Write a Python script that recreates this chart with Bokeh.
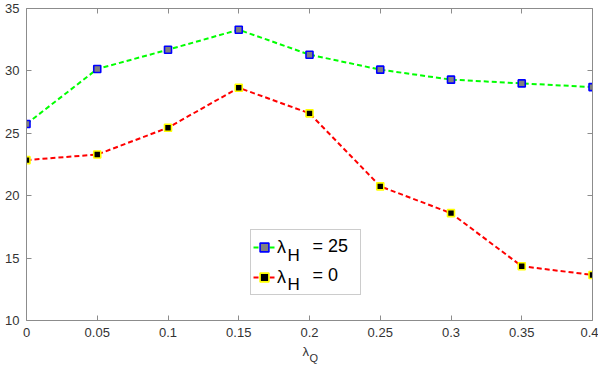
from bokeh.plotting import figure
from bokeh.models import (Range1d, FixedTicker, LinearAxis, Legend, LegendItem, Label)
from bokeh.embed import file_html
from bokeh.resources import INLINE

# data
lambda_q = [0, 0.05, 0.1, 0.15, 0.2, 0.25, 0.3, 0.35, 0.4]
x_tick_labels = ["0", "0.05", "0.1", "0.15", "0.2", "0.25", "0.3", "0.35", "0.4"]
y_ticks = [10, 15, 20, 25, 30, 35]
series_h25 = [25.75, 30.15, 31.7, 33.3, 31.3, 30.1, 29.3, 29.0, 28.7]
series_h0 = [22.85, 23.3, 25.45, 28.65, 26.6, 20.75, 18.6, 14.35, 13.65]

FONT = "Liberation Sans"
AX = "#8c8c8c"
LBL = "#333333"

p = figure(width=598, height=372, output_backend="svg", toolbar_location=None,
           x_range=Range1d(0, 0.4), y_range=Range1d(10, 35),
           min_border_left=26, min_border_right=6, min_border_top=8, min_border_bottom=52,
           x_axis_location=None, y_axis_location=None)
p.grid.visible = False
p.outline_line_color = None
p.background_fill_color = "white"
p.border_fill_color = "white"

def style_axis(ax, labels=True):
    ax.axis_line_color = AX
    ax.axis_line_width = 1
    ax.major_tick_line_color = AX
    ax.major_tick_in = 5
    ax.major_tick_out = 0
    ax.minor_tick_line_color = None
    ax.major_label_text_font = FONT
    if labels:
        ax.major_label_text_color = LBL
        ax.major_label_text_font_size = "13px"
        ax.major_label_standoff = 7
    else:
        ax.major_label_text_color = None
        ax.major_label_text_font_size = "1px"
        ax.major_label_standoff = 0

xt = FixedTicker(ticks=lambda_q)
yt = FixedTicker(ticks=y_ticks)
overrides = {v: s for v, s in zip(lambda_q, x_tick_labels)}

bottom = LinearAxis(ticker=xt, major_label_overrides=overrides)
style_axis(bottom)
top = LinearAxis(ticker=xt)
style_axis(top, labels=False)
left = LinearAxis(ticker=yt)
style_axis(left)
right = LinearAxis(ticker=yt)
style_axis(right, labels=False)
p.add_layout(bottom, "below")
p.add_layout(top, "above")
p.add_layout(left, "left")
p.add_layout(right, "right")

l1 = p.line(lambda_q, series_h25, line_color="#00ff00", line_width=2, line_dash="5 3")
m1 = p.scatter(lambda_q, series_h25, marker="square", size=7, line_color="#0000ff",
               fill_color="#808080", line_width=1.6)
l2 = p.line(lambda_q, series_h0, line_color="#ff0000", line_width=2, line_dash="5 3")
m2 = p.scatter(lambda_q, series_h0, marker="square", size=7, line_color="#ffff00",
               fill_color="#000000", line_width=1.6)

legend = Legend(items=[LegendItem(label="λ", renderers=[l1, m1]),
                       LegendItem(label="λ", renderers=[l2, m2])],
                location=(224, 25), margin=0, padding=2, spacing=0,
                glyph_width=22, glyph_height=30, label_height=30, label_width=81,
                label_standoff=2, label_text_font=FONT, label_text_font_size="18px",
                label_text_color="black", border_line_color="#999999", border_line_width=1,
                background_fill_alpha=0)
p.add_layout(legend, "center")

for txt, x, y, size in [("H", 261, 65, "17px"), ("= 25", 286, 75, "18px"),
                        ("H", 261, 36, "17px"), ("= 0", 286, 46, "18px")]:
    p.add_layout(Label(x=x, y=y, x_units="screen", y_units="screen", text=txt,
                       text_font=FONT, text_font_size=size, text_color="black",
                       text_baseline="middle", text_align="left", level="overlay"))

p.add_layout(Label(x=276, y=3, x_units="screen", y_units="screen", text="λ",
                   text_font=FONT, text_font_size="13px", text_color=LBL,
                   text_baseline="middle", text_align="left"), "below")
p.add_layout(Label(x=283, y=9, x_units="screen", y_units="screen", text="Q",
                   text_font=FONT, text_font_size="11px", text_color=LBL,
                   text_baseline="middle", text_align="left"), "below")

html = file_html(p, INLINE)
html = html.replace("<head>", "<head><style>html,body{margin:0;padding:0;overflow:hidden}</style>", 1)
open("out.html", "w").write(html)
